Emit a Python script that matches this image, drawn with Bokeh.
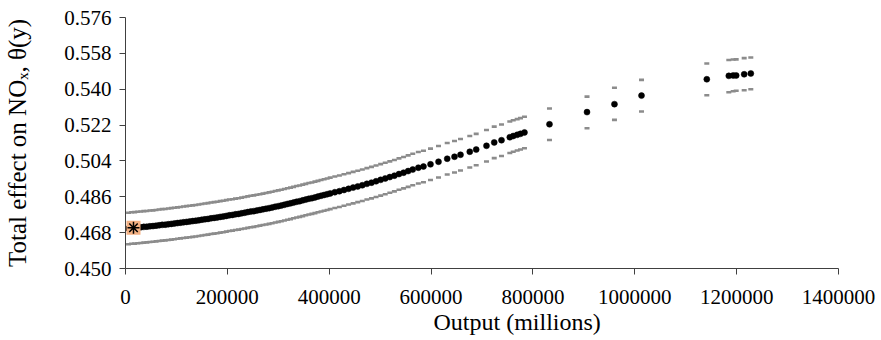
from bokeh.plotting import figure
from bokeh.models import Range1d, FixedTicker, Title, PrintfTickFormatter
from bokeh.embed import file_html
from bokeh.resources import INLINE

# ---- data ----
output_millions = [
    6000, 12000, 18000, 24000, 30000, 36000, 42000, 48000, 54000, 60000,
    66000, 72000, 78000, 84000, 90000, 96000, 102000, 108000, 114000, 120000,
    126000, 132000, 138000, 144000, 150000, 156000, 162000, 168000, 174000, 180000,
    186000, 192000, 198000, 204000, 210000, 216000, 222000, 228000, 234000, 240000,
    246000, 252000, 258000, 264000, 270000, 276000, 282000, 288000, 294000, 300000,
    306000, 312000, 318000, 324000, 330000, 336000, 342000, 348000, 354000, 360000,
    366000, 372000, 378000, 384000, 390000, 396000, 402000, 411000, 420000, 429000,
    438000, 447000, 456000, 465000, 474000, 483000, 492000, 501000, 510000, 519000,
    528000, 537000, 546000, 555000, 564000, 575000,
    585100, 598900, 614600, 631700, 646000, 657800, 676000, 688600,
    708800, 724000, 738300, 754600, 761300, 769100, 775600, 783400, 832500, 906200,
    960100, 1013200, 1141400, 1184600, 1193200, 1199100, 1214800, 1227800,
]
theta = [
    0.4701, 0.4703, 0.4704, 0.4706, 0.4707, 0.4709, 0.4710, 0.4712, 0.4713, 0.4715,
    0.4717, 0.4719, 0.4720, 0.4722, 0.4724, 0.4726, 0.4728, 0.4730, 0.4732, 0.4734,
    0.4736, 0.4738, 0.4740, 0.4742, 0.4745, 0.4747, 0.4749, 0.4752, 0.4754, 0.4756,
    0.4759, 0.4761, 0.4764, 0.4767, 0.4769, 0.4772, 0.4774, 0.4777, 0.4780, 0.4783,
    0.4786, 0.4788, 0.4791, 0.4794, 0.4797, 0.4800, 0.4803, 0.4806, 0.4810, 0.4813,
    0.4816, 0.4820, 0.4824, 0.4827, 0.4831, 0.4835, 0.4838, 0.4842, 0.4846, 0.4850,
    0.4853, 0.4857, 0.4861, 0.4865, 0.4869, 0.4873, 0.4877, 0.4883, 0.4888, 0.4894,
    0.4900, 0.4906, 0.4912, 0.4918, 0.4925, 0.4931, 0.4938, 0.4945, 0.4952, 0.4959,
    0.4966, 0.4974, 0.4981, 0.4989, 0.4997, 0.5006,
    0.5012, 0.5023, 0.5036, 0.5051, 0.5061, 0.5071, 0.5086, 0.5097,
    0.5116, 0.5133, 0.5144, 0.5159, 0.5165, 0.5171, 0.5176, 0.5183, 0.5224, 0.5285,
    0.5325, 0.5368, 0.5450, 0.5467, 0.5469, 0.5469, 0.5475, 0.5479,
]
theta_upper = [
    0.4780, 0.4782, 0.4783, 0.4785, 0.4786, 0.4788, 0.4789, 0.4791, 0.4792, 0.4794,
    0.4796, 0.4798, 0.4799, 0.4801, 0.4803, 0.4805, 0.4807, 0.4809, 0.4811, 0.4813,
    0.4815, 0.4817, 0.4819, 0.4821, 0.4824, 0.4826, 0.4828, 0.4831, 0.4833, 0.4835,
    0.4838, 0.4840, 0.4843, 0.4846, 0.4848, 0.4851, 0.4853, 0.4856, 0.4859, 0.4862,
    0.4865, 0.4867, 0.4870, 0.4873, 0.4876, 0.4879, 0.4882, 0.4885, 0.4889, 0.4892,
    0.4895, 0.4899, 0.4903, 0.4906, 0.4910, 0.4914, 0.4917, 0.4921, 0.4925, 0.4929,
    0.4932, 0.4936, 0.4940, 0.4944, 0.4948, 0.4952, 0.4956, 0.4962, 0.4967, 0.4973,
    0.4979, 0.4985, 0.4991, 0.4997, 0.5004, 0.5010, 0.5017, 0.5024, 0.5031, 0.5038,
    0.5045, 0.5053, 0.5060, 0.5068, 0.5076, 0.5085,
    0.5091, 0.5102, 0.5115, 0.5130, 0.5140, 0.5150, 0.5165, 0.5176,
    0.5195, 0.5212, 0.5223, 0.5238, 0.5244, 0.5250, 0.5255, 0.5262, 0.5303, 0.5363,
    0.5407, 0.5447, 0.5529, 0.5547, 0.5549, 0.5550, 0.5556, 0.5559,
]
theta_lower = [
    0.4622, 0.4624, 0.4625, 0.4627, 0.4628, 0.4630, 0.4631, 0.4633, 0.4634, 0.4636,
    0.4638, 0.4640, 0.4641, 0.4643, 0.4645, 0.4647, 0.4649, 0.4651, 0.4653, 0.4655,
    0.4657, 0.4659, 0.4661, 0.4663, 0.4666, 0.4668, 0.4670, 0.4673, 0.4675, 0.4677,
    0.4680, 0.4682, 0.4685, 0.4688, 0.4690, 0.4693, 0.4695, 0.4698, 0.4701, 0.4704,
    0.4707, 0.4709, 0.4712, 0.4715, 0.4718, 0.4721, 0.4724, 0.4727, 0.4731, 0.4734,
    0.4737, 0.4741, 0.4745, 0.4748, 0.4752, 0.4756, 0.4759, 0.4763, 0.4767, 0.4771,
    0.4774, 0.4778, 0.4782, 0.4786, 0.4790, 0.4794, 0.4798, 0.4804, 0.4809, 0.4815,
    0.4821, 0.4827, 0.4833, 0.4839, 0.4846, 0.4852, 0.4859, 0.4866, 0.4873, 0.4880,
    0.4887, 0.4895, 0.4902, 0.4910, 0.4918, 0.4927,
    0.4933, 0.4944, 0.4957, 0.4972, 0.4982, 0.4992, 0.5007, 0.5018,
    0.5037, 0.5054, 0.5065, 0.5080, 0.5086, 0.5092, 0.5097, 0.5104, 0.5145, 0.5204,
    0.5246, 0.5288, 0.5370, 0.5385, 0.5390, 0.5392, 0.5395, 0.5400,
]
highlight_x = [15700]
highlight_y = [0.4705]

x_ticks = [0, 200000, 400000, 600000, 800000, 1000000, 1200000, 1400000]
y_ticks = [0.450, 0.468, 0.486, 0.504, 0.522, 0.540, 0.558, 0.576]

x_title = "Output (millions)"
y_title = "Total effect on NO\u2093, \u03b8(y)"

FONT = "Liberation Serif"
W, H = 881, 340

p = figure(width=W, height=H, output_backend="svg", toolbar_location=None,
           x_range=Range1d(0, 1400000), y_range=Range1d(0.450, 0.576),
           min_border_left=125, min_border_right=43, min_border_top=17,
           min_border_bottom=72)
p.outline_line_color = None
p.grid.visible = False
p.background_fill_color = "white"
p.border_fill_color = "white"

# confidence bounds
p.scatter(output_millions, theta_upper, marker="dash", size=5, line_width=2.6,
          line_color="#8c8c8c")
p.scatter(output_millions, theta_lower, marker="dash", size=5, line_width=2.6,
          line_color="#8c8c8c")
# point estimates
p.scatter(output_millions, theta, marker="circle", size=6, fill_color="black",
          line_color="black", line_width=0.5)
# highlighted observation
p.scatter(highlight_x, highlight_y, marker="square", size=14,
          fill_color="#F4B183", line_color=None)
p.scatter(highlight_x, highlight_y, marker="asterisk", size=12,
          line_color="black", line_width=1.5)

for ax in (p.xaxis[0], p.yaxis[0]):
    ax.axis_line_color = "#404040"
    ax.axis_line_width = 1
    ax.major_tick_line_color = "#404040"
    ax.major_tick_out = 6
    ax.major_tick_in = 0
    ax.minor_tick_out = 0
    ax.minor_tick_in = 0
    ax.major_label_text_font = FONT
    ax.major_label_text_font_size = "21px"
    ax.major_label_text_color = "black"

p.xaxis.ticker = FixedTicker(ticks=x_ticks)
p.yaxis.ticker = FixedTicker(ticks=y_ticks)
p.xaxis.formatter = PrintfTickFormatter(format="%d")
p.yaxis.formatter = PrintfTickFormatter(format="%.3f")
p.xaxis.major_label_standoff = 15
p.yaxis.major_label_standoff = 8

# y-axis title
p.yaxis.axis_label = y_title
p.yaxis.axis_label_standoff = 30
p.yaxis.axis_label_text_font = FONT
p.yaxis.axis_label_text_font_size = "25px"
p.yaxis.axis_label_text_font_style = "normal"
p.yaxis.axis_label_text_color = "black"

# x-axis title, shifted right like the reference
p.add_layout(Title(text=x_title, align="left", offset=308, standoff=1,
                   text_font=FONT, text_font_size="24px",
                   text_font_style="normal", text_color="black"), "below")

open("out.html", "w").write(file_html(p, INLINE))
